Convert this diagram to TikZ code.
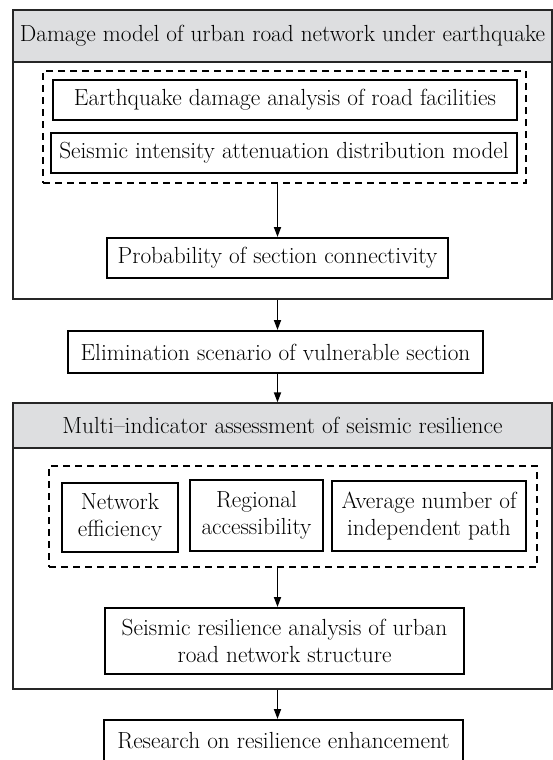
\documentclass[tikz,border=0pt]{standalone}
\usepackage{tikz}
\usetikzlibrary{arrows.meta}
\definecolor{headgray}{RGB}{221,222,224}

\begin{document}
\begin{tikzpicture}[x=1pt, y=-1pt,
	every node/.style = {inner sep = 0pt, font = \fontsize{23.3}{27}\selectfont, align = center},
	frame/.style = {draw = black!85, line width = 1.3pt},
	head/.style = {draw = black!85, line width = 1.3pt, fill = headgray},
	group/.style = {draw, line width = 1.6pt, dash pattern = on 7pt off 5pt},
	box/.style = {draw, line width = 2pt},
	arr/.style = {line width = 1.7pt, -{Triangle[length = 10pt, width = 7pt]}}]
	\clip (0, 0) rectangle (553, 760);
	
	\node[frame, minimum width = 539pt, minimum height = 289pt] (frameA) at (282.5, 154.5) {};
	\node[head, minimum width = 539pt, minimum height = 52pt] (headA) at (282.5, 36) {Damage model of urban road network under earthquake};
	\node[group, minimum width = 483pt, minimum height = 112pt] (groupA) at (284.5, 127) {};
	\node[box, minimum width = 464pt, minimum height = 40pt] (facil) at (285, 100) {Earthquake damage analysis of road facilities};
	\node[box, minimum width = 466pt, minimum height = 40pt] (atten) at (284, 153) {Seismic intensity attenuation distribution model};
	\node[box, minimum width = 341pt, minimum height = 40pt] (prob) at (277.5, 258) {Probability of section connectivity};
	
	\node[box, minimum width = 415pt, minimum height = 42pt] (elim) at (275.5, 352) {Elimination scenario of vulnerable section};
	
	\node[frame, minimum width = 539pt, minimum height = 286pt] (frameB) at (282.5, 546) {};
	\node[head, minimum width = 539pt, minimum height = 45pt] (headB) at (282.5, 425.5) {Multi--indicator assessment of seismic resilience};
	\node[group, minimum width = 488pt, minimum height = 101pt] (groupB) at (293, 516.5) {};
	\node[box, minimum width = 116pt, minimum height = 69pt] (effic) at (120, 517.5) {Network\\efficiency};
	\node[box, minimum width = 133pt, minimum height = 71pt] (access) at (256.5, 515.5) {Regional\\accessibility};
	\node[box, minimum width = 194pt, minimum height = 70pt] (paths) at (429, 516) {Average number of\\independent path};
	\node[box, minimum width = 359pt, minimum height = 66pt] (struct) at (284.5, 641) {Seismic resilience analysis of urban\\road network structure};
	
	\node[box, minimum width = 359pt, minimum height = 42pt] (enhance) at (283.5, 741) {Research on resilience enhancement};
	
	\draw[arr] (groupA.south -| prob.north) -- (prob.north);
	\draw[arr] (frameA.south -| prob.north) -- (elim.north -| prob.north);
	\draw[arr] (elim.south -| prob.north) -- (frameB.north -| prob.north);
	\draw[arr] (groupB.south -| prob.north) -- (struct.north -| prob.north);
	\draw[arr] (frameB.south -| prob.north) -- (enhance.north -| prob.north);
\end{tikzpicture}
\end{document}
